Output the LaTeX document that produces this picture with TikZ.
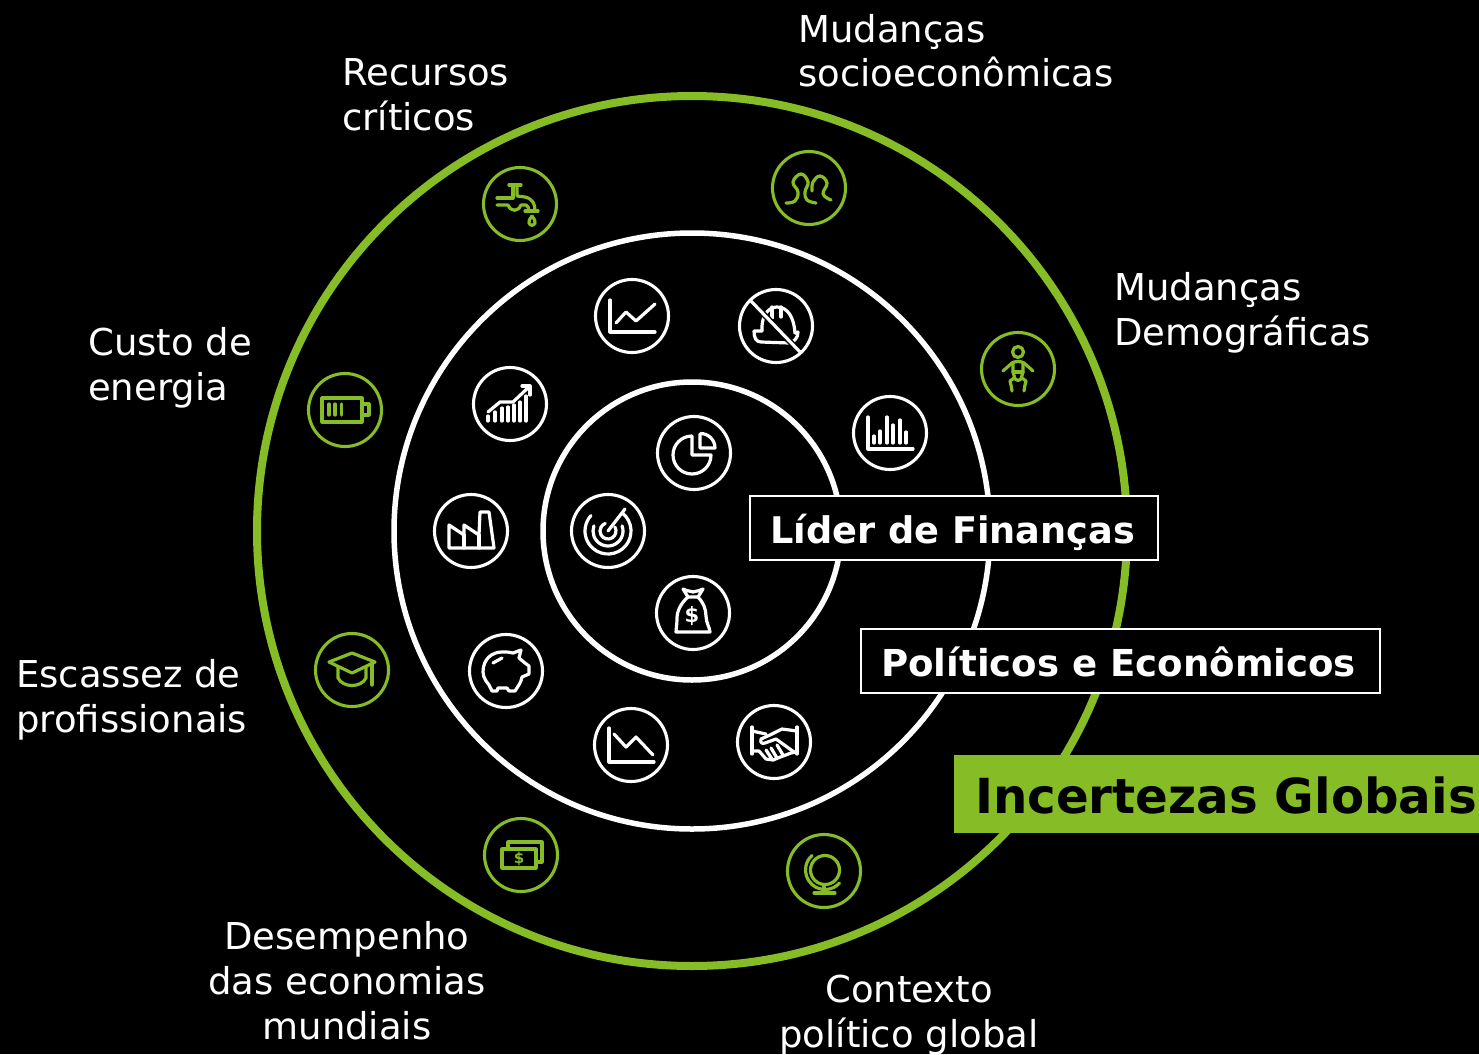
\documentclass[tikz,border=0pt]{standalone}
\usepackage{fontspec}
\setmainfont{DejaVu Sans}
\definecolor{dgreen}{HTML}{86BC25}
\newcommand{\lbl}{\fontsize{37}{44.6}\selectfont}
\newcommand{\boldlbl}{\fontsize{36.7}{44}\selectfont\bfseries}
\newcommand{\boldlblb}{\fontsize{37.1}{44}\selectfont\bfseries}
\newcommand{\biglbl}{\fontsize{48.3}{50}\selectfont\bfseries}
\tikzset{
  x=1pt,y=-1pt,
  wring/.style={circle,draw=white,fill=black,line width=3.1pt,minimum size=73pt,inner sep=0pt},
  gring/.style={circle,draw=dgreen,fill=black,line width=3.1pt,minimum size=73pt,inner sep=0pt},
  wicon/.style={draw=white,line width=3.2pt,line cap=round,line join=round},
  gicon/.style={draw=dgreen,line width=3.2pt,line cap=round,line join=round},
  txt/.style={text=white,inner sep=0pt,font=\lbl},
  lefttxt/.style={txt,align=left,anchor=base west},
  midtxt/.style={txt,align=center,anchor=base}
}
\begin{document}
\begin{tikzpicture}
\useasboundingbox (0,0) rectangle (1479,1054);
\clip (0,0) rectangle (1479,1054);
\fill[black] (0,0) rectangle (1479,1054);
% rings
\coordinate (ctr) at (692,531);
\draw[dgreen,line width=8pt] (ctr) circle[radius=435];
\draw[white,line width=5.5pt] (ctr) circle[radius=298];
\draw[white,line width=5.5pt] (ctr) circle[radius=149];
% icon rings
\node[gring] (tap) at (520,204) {};
\node[gring] (people) at (809,188) {};
\node[gring] (baby) at (1018,369) {};
\node[gring] (battery) at (345,410) {};
\node[gring] (grad) at (352,670) {};
\node[gring] (cash) at (521,855) {};
\node[gring] (globe) at (824,871) {};
\node[wring] (chartup) at (632,316) {};
\node[wring] (helmet) at (776,326) {};
\node[wring] (bars) at (890,433) {};
\node[wring] (growth) at (510,404) {};
\node[wring] (factory) at (471,531) {};
\node[wring] (piggy) at (506,671) {};
\node[wring] (chartdown) at (631,745) {};
\node[wring] (hands) at (774,742) {};
\node[wring] (pie) at (694,453) {};
\node[wring] (radar) at (608,531) {};
\node[wring] (bag) at (693,613) {};
% tap
\begin{scope}[shift={(tap.center)},every path/.style={gicon}]
\draw (-11,-19)--(1,-19);
\draw (-7,-19)--(-7,-6)--(-23,-6);
\draw (-3,-19)--(-3,-8)--(5,-7) .. controls (13,-5) and (15,0) .. (15,7);
\draw (-23,1)--(-12,1) .. controls (-9,8) and (-2,8) .. (1,1)--(6,1) .. controls (8,2) and (9,4) .. (9,7);
\draw (5,7)--(18,7);
\draw (12,12) .. controls (10,15) and (8,17) .. (9,19) .. controls (10,22) and (14,22) .. (15,19) .. controls (16,17) and (14,15) .. (12,12);
\end{scope}
% people
\begin{scope}[shift={(people.center)},every path/.style={gicon}]
\draw plot[smooth,tension=0.7] coordinates {(-23,15)(-14,13)(-11,4)(-16,-6)(-8,-14)(-1,-6)(-4,4)(-2,12)(7,15)};
\draw plot[smooth,tension=0.7] coordinates {(3,3)(4,-6)(11,-12)(18,-5)(14,6)(22,12)};
\end{scope}
% baby
\begin{scope}[shift={(baby.center)},every path/.style={gicon}]
\draw (0,-17) circle[radius=5.5];
\draw (-15,2)--(-6,-6) .. controls (-3,-8) and (3,-8) .. (6,-6)--(15,2);
\draw (-5,-6)--(-5,3)--(-3,10) .. controls (-1,12) and (1,12) .. (3,10)--(5,3)--(5,-6);
\draw (-5,3)--(5,3);
\draw (-4,9)--(-8,12)--(-7,16)--(-6,22);
\draw (4,9)--(8,12)--(7,16)--(6,22);
\end{scope}
% battery
\begin{scope}[shift={(battery.center)},every path/.style={gicon}]
\draw (-23,-12) rectangle (17,12);
\draw (17,-6)--(24,-6)--(24,5)--(17,5);
\draw (-16,-6)--(-16,5) (-10,-6)--(-10,5) (-3.5,-6)--(-3.5,5);
\end{scope}
% graduation cap
\begin{scope}[shift={(grad.center)},every path/.style={gicon}]
\draw (-23,-8)--(0,-17)--(23,-8)--(0,3)--cycle;
\draw (-14,-3)--(-14,8) .. controls (-9,18) and (9,18) .. (14,8)--(14,-3);
\draw (20,-7)--(20,15);
\end{scope}
% cash
\begin{scope}[shift={(cash.center)},every path/.style={gicon}]
\draw (-19,-6) rectangle (15,13);
\draw (-13,-6)--(-13,-13)--(21,-13)--(21,7)--(15,7);
\node[text=dgreen,font=\fontsize{15}{15}\selectfont\bfseries,draw=none,inner sep=0pt] (cashd) at (-2,4) {\$};
\end{scope}
% globe
\begin{scope}[shift={(globe.center)},every path/.style={gicon}]
\draw (1,-1) circle[radius=14.5];
\draw ([shift={(42:19.5)}]1,-1) arc[start angle=42,end angle=228,radius=19.5];
\draw (0,16)--(0,22) (-10,22)--(11,22);
\end{scope}
% chart up
\begin{scope}[shift={(chartup.center)},every path/.style={wicon}]
\draw (-22,-16)--(-22,16)--(23,16);
\draw (-16,7)--(-6,-4)--(4,5)--(23,-12);
\end{scope}
% helmet
\begin{scope}[shift={(helmet.center)},every path/.style={wicon}]
\draw (-14,5) .. controls (-15,-8) and (-9,-19) .. (1,-19) .. controls (12,-19) and (18,-8) .. (19,7);
\draw (-4,-19)--(-4,-8) (5,-19)--(5,-9);
\draw (-22,5)--(-14,5) (-22,5) .. controls (-22,12) and (-20,16) .. (-15,16)--(13,17) .. controls (18,16) and (22,12) .. (22,6)--(19,7);
\draw[draw=black,line width=6pt,line cap=butt] (-24,-24)--(22,24);
\draw (-26,-26)--(24,26);
\end{scope}
% bar chart
\begin{scope}[shift={(bars.center)},every path/.style={wicon}]
\draw (-22,-16)--(-22,16)--(23,16);
\draw (-16,10)--(-16,3) (-10,10)--(-10,-2) (-3,10)--(-3,-16) (3,10)--(3,-8) (10,10)--(10,-13) (16,10)--(16,-1);
\end{scope}
% growth
\begin{scope}[shift={(growth.center)},every path/.style={wicon}]
\draw (-22,17)--(-22,12) (-15,17)--(-15,8) (-8,17)--(-8,4) (-2,17)--(-2,3) (4,17)--(4,1) (10,17)--(10,-2) (16,17)--(16,-8);
\draw (-22,8)--(-10,-2)--(3,-2)--(20,-18);
\draw (12,-18)--(20,-18)--(20,-9);
\end{scope}
% factory
\begin{scope}[shift={(factory.center)},every path/.style={wicon}]
\draw (-22,17)--(23,17)--(18,-19)--(9,-19)--(8,4)--(-7,-6)--(-7,4)--(-22,-6)--cycle;
\draw (-7,4)--(-7,17) (8,4)--(8,17);
\end{scope}
% piggy
\begin{scope}[shift={(piggy.center)},every path/.style={wicon}]
\draw (-23,1) .. controls (-23,-12) and (-14,-19) .. (-4,-19) .. controls (1,-19) and (4,-19) .. (7,-18)--(15,-21)--(13,-13)--(19,-8)--(23,-5)--(23,3)--(16,6) .. controls (15,12) and (12,15) .. (9,20)--(3,20)--(1,17)--(-8,17)--(-9,20)--(-14,20)--(-17,14)--(-20,10) .. controls (-22,7) and (-23,4) .. (-23,1)--cycle;
\draw (-13,-8)--(-4,-13);
\end{scope}
% chart down
\begin{scope}[shift={(chartdown.center)},every path/.style={wicon}]
\draw (-22,-17)--(-22,17)--(23,17);
\draw (-17,-11)--(-5,2)--(5,-8)--(22,10);
\end{scope}
% handshake
\begin{scope}[shift={(hands.center)},every path/.style={wicon}]
\draw (-22,-15)--(-22,12) (23,-15)--(23,12);
\draw (-22,-11)--(-8,-8);
\draw (23,-11)--(8,-13)--(-4,-7)--(-13,-3) .. controls (-14,1) and (-12,2) .. (-9,1)--(2,-3)--(20,10);
\draw (-22,9)--(-15,9)--(-8,17)--(-1,18)--(9,14)--(17,11)--(22,10);
\draw (-8,8)--(-2,17) (-3,6)--(3,16) (3,3)--(9,13);
\end{scope}
% pie
\begin{scope}[shift={(pie.center)},every path/.style={wicon}]
\draw (-2,-17)--(-2,2)--(17,2) arc[start angle=0,end angle=270,radius=19];
\draw (6,-19)--(6,-5)--(21,-5) arc[start angle=0,end angle=-90,radius=14.5];
\end{scope}
% radar
\begin{scope}[shift={(radar.center)},every path/.style={wicon}]
\draw ([shift={(-50:23)}]0,0) arc[start angle=-50,end angle=222,radius=23];
\draw ([shift={(-20:15)}]0,0) arc[start angle=-20,end angle=200,radius=15];
\draw ([shift={(-30:8)}]0,0) arc[start angle=-30,end angle=250,radius=8];
\draw (0,0)--(17,-22);
\end{scope}
% money bag
\begin{scope}[shift={(bag.center)},every path/.style={wicon}]
\draw (-5,-16)--(-10,-24) .. controls (-6,-22) and (-3,-22) .. (0,-21) .. controls (3,-22) and (6,-22) .. (10,-24)--(5,-16)--cycle;
\draw (-5,-16) .. controls (-12,-10) and (-16,-2) .. (-16,5) .. controls (-16,12) and (-17,15) .. (-17,19)--(17,19) .. controls (17,15) and (13,10) .. (13,3) .. controls (13,-4) and (10,-11) .. (5,-16);
\node[text=white,font=\fontsize{21}{21}\selectfont\bfseries,draw=none,inner sep=0pt] (bagd) at (-1,3) {\$};
\end{scope}
% labels (a node's base is its last line)
\node[lefttxt] (l1) at (342,130) {Recursos\\críticos};
\node[lefttxt] (l2) at (798,87) {Mudanças\\socioeconômicas};
\node[lefttxt] (l3) at (1114,345) {Mudanças\\Demográficas};
\node[lefttxt] (l4) at (88,400) {Custo de\\energia};
\node[lefttxt] (l5) at (16,732) {Escassez de\\profissionais};
\node[midtxt] (l6) at (347,1039) {Desempenho\\das economias\\mundiais};
\node[midtxt] (l7) at (909,1047) {Contexto\\político global};
% boxes
\path[draw=white,fill=black,line width=1.7pt] (750,496) rectangle (1158,560);
\path[draw=white,fill=black,line width=1.7pt] (861,629) rectangle (1380,693);
\fill[dgreen] (954,755) rectangle (1479,833);
\node[text=white,font=\boldlbl,inner sep=0pt,anchor=base west] (b1) at (770,543) {Líder de Finanças};
\node[text=white,font=\boldlblb,inner sep=0pt,anchor=base west] (b2) at (881,676) {Políticos e Econômicos};
\node[text=black,font=\biglbl,inner sep=0pt,anchor=base west] (b3) at (975,813) {Incertezas Globais};
\end{tikzpicture}
\end{document}
